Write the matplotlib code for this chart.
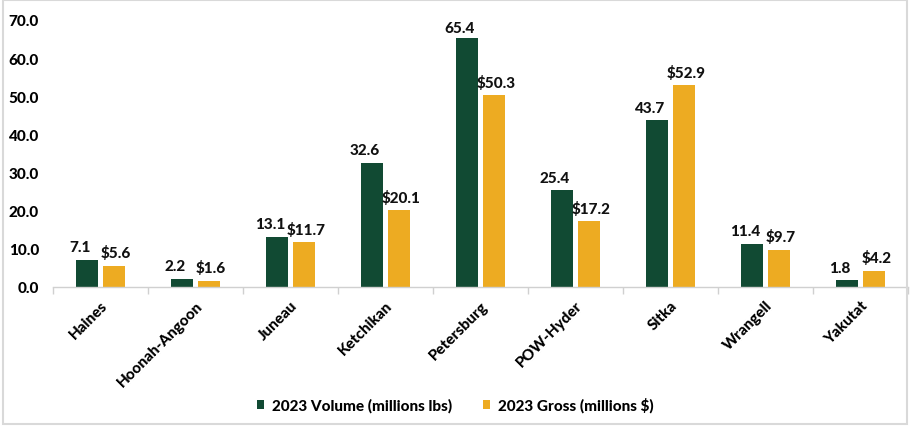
import matplotlib
matplotlib.use("Agg")
import matplotlib.pyplot as plt
import numpy as np
from matplotlib.patches import Rectangle

communities = ["Haines", "Hoonah-Angoon", "Juneau", "Ketchikan", "Petersburg",
               "POW-Hyder", "Sitka", "Wrangell", "Yakutat"]
volume = [7.1, 2.2, 13.1, 32.6, 65.4, 25.4, 43.7, 11.4, 1.8]
gross = [5.6, 1.6, 11.7, 20.1, 50.3, 17.2, 52.9, 9.7, 4.2]
yticks = [0, 10, 20, 30, 40, 50, 60, 70]

GREEN = "#114A33"
GOLD = "#EDAB22"
WEIGHT = 900

plt.rcParams["font.family"] = ["Lato", "DejaVu Sans"]
plt.rcParams["font.weight"] = WEIGHT

fig = plt.figure(figsize=(9.10, 4.27), dpi=100)
ax = fig.add_axes([53 / 910, 1 - 288 / 427, (908 - 53) / 910, (288 - 21) / 427])

x = np.arange(len(communities))
w = 0.228
off = 0.143
b1 = ax.bar(x - off, volume, w, color=GREEN, label="2023 Volume (millions lbs)")
b2 = ax.bar(x + off, gross, w, color=GOLD, label="2023 Gross (millions $)")

ymax = yticks[-1]


def label_bars(bars, values, fmt, dx):
    for rect, v in zip(bars, values):
        dy = 4 if v < ymax - 8 else 2
        ax.annotate(fmt.format(v), (rect.get_x() + rect.get_width() / 2, v),
                    xytext=(dx, dy), textcoords="offset points", ha="center",
                    va="bottom", fontsize=11, fontweight=WEIGHT, color="#111111")


label_bars(b1, volume, "{:.1f}", -5)
label_bars(b2, gross, "${:.1f}", 1.5)

ax.set_xlim(-0.5, len(communities) - 0.5)
ax.set_ylim(0, ymax)
ax.set_yticks(yticks)
ax.set_yticklabels([f"{t:.1f}" for t in yticks], fontsize=11, fontweight=WEIGHT)
ax.tick_params(axis="y", length=0, pad=10)

ax.set_xticks(x)
ax.set_xticklabels(communities, rotation=45, ha="right", rotation_mode="anchor",
                   fontsize=11, fontweight=WEIGHT)
ax.set_xticks(np.arange(-0.5, len(communities), 1), minor=True)
ax.tick_params(axis="x", which="major", length=0, pad=8)
ax.tick_params(axis="x", which="minor", length=5, color="#d0d0d0", width=1)

for s in ["top", "right", "left"]:
    ax.spines[s].set_visible(False)
ax.spines["bottom"].set_color("#d0d0d0")
ax.spines["bottom"].set_linewidth(1)

leg = fig.legend(loc="center", bbox_to_anchor=(0.5, 1 - 406 / 427), ncol=2,
                 frameon=False, fontsize=11, handlelength=0.5, handleheight=0.5,
                 handletextpad=0.5, columnspacing=2.0)
for t in leg.get_texts():
    t.set_fontweight(WEIGHT)

fig.patches.append(Rectangle((0.003, 0.004), 0.994, 0.993, transform=fig.transFigure,
                             fill=False, edgecolor="#d9d9d9", linewidth=1.5))

fig.savefig("out.png", dpi=100, facecolor="white")
